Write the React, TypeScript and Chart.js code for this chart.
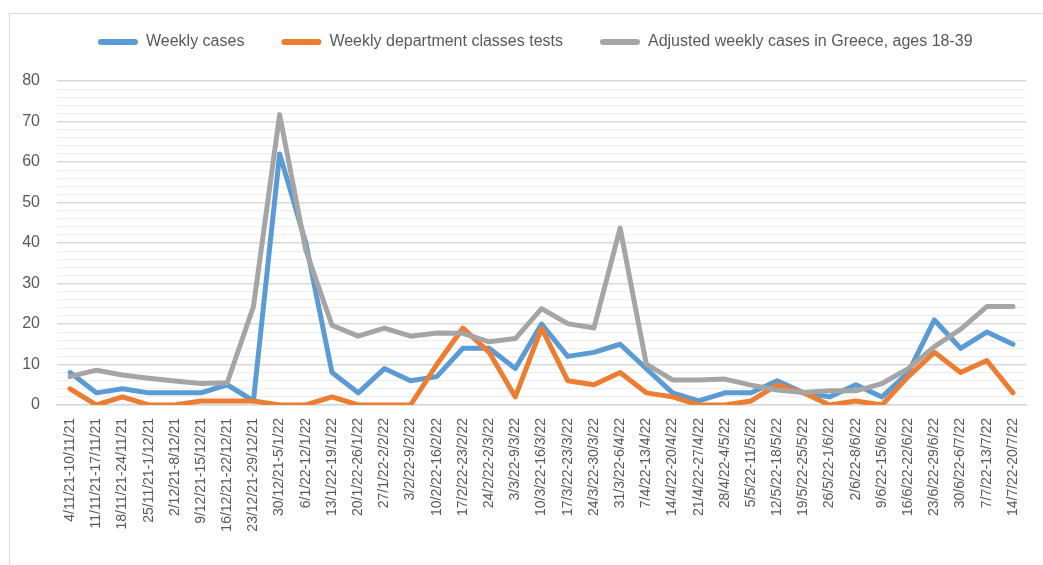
import React, { useEffect, useRef } from 'react';
import { Chart, registerables } from 'chart.js';

Chart.register(...registerables);

const categories: string[] = [
  '4/11/21-10/11/21', '11/11/21-17/11/21', '18/11/21-24/11/21', '25/11/21-1/12/21',
  '2/12/21-8/12/21', '9/12/21-15/12/21', '16/12/21-22/12/21', '23/12/21-29/12/21',
  '30/12/21-5/1/22', '6/1/22-12/1/22', '13/1/22-19/1/22', '20/1/22-26/1/22',
  '27/1/22-2/2/22', '3/2/22-9/2/22', '10/2/22-16/2/22', '17/2/22-23/2/22',
  '24/2/22-2/3/22', '3/3/22-9/3/22', '10/3/22-16/3/22', '17/3/22-23/3/22',
  '24/3/22-30/3/22', '31/3/22-6/4/22', '7/4/22-13/4/22', '14/4/22-20/4/22',
  '21/4/22-27/4/22', '28/4/22-4/5/22', '5/5/22-11/5/22', '12/5/22-18/5/22',
  '19/5/22-25/5/22', '26/5/22-1/6/22', '2/6/22-8/6/22', '9/6/22-15/6/22',
  '16/6/22-22/6/22', '23/6/22-29/6/22', '30/6/22-6/7/22', '7/7/22-13/7/22',
  '14/7/22-20/7/22',
];

const weeklyCases: number[] = [
  8, 3, 4, 3, 3, 3, 5, 1, 62, 40, 8, 3, 9, 6, 7, 14, 14, 9, 20, 12, 13, 15, 9, 3,
  1, 3, 3, 6, 3, 2, 5, 2, 8, 21, 14, 18, 15,
];

const departmentTests: number[] = [
  4, 0, 2, 0, 0, 1, 1, 1, 0, 0, 2, 0, 0, 0, 10, 19, 13, 2, 19, 6, 5, 8, 3, 2,
  0, 0, 1, 5, 3, 0, 1, 0, 7, 13, 8, 11, 3,
];

const adjustedGreece: number[] = [
  7, 8.6, 7.4, 6.6, 5.9, 5.3, 5.5, 24.3, 71.7, 38.2, 19.7, 17, 19, 17, 17.8, 17.7,
  15.6, 16.4, 23.8, 20.1, 19, 43.7, 10.1, 6.2, 6.2, 6.4, 4.9, 3.7, 3.1, 3.5, 3.5,
  5.3, 9, 14.4, 18.7, 24.3, 24.3,
];

const seriesNames: string[] = [
  'Weekly cases',
  'Weekly department classes tests',
  'Adjusted weekly cases in Greece, ages 18-39',
];

const yTickValues: number[] = [0, 10, 20, 30, 40, 50, 60, 70, 80];

const COLORS = ['#5B9BD5', '#ED7D31', '#A5A5A5'];
const TEXT = '#595959';

const legendSpacer = {
  id: 'legendSpacer',
  beforeInit(chart: any) {
    const legend = chart.legend;
    if (!legend) return;
    const origFit = legend.fit;
    legend.fit = function () {
      origFit.call(this);
      this.height = 84;
    };
  },
  afterLayout(chart: any) {
    if (chart.legend) {
      chart.legend.left = 61;
    }
  },
};

export default function App() {
  const canvasRef = useRef<HTMLCanvasElement | null>(null);

  useEffect(() => {
    const canvas = canvasRef.current;
    if (!canvas) return;
    const series = [weeklyCases, departmentTests, adjustedGreece];
    const chart = new Chart(canvas, {
      type: 'line',
      data: {
        labels: categories,
        datasets: series.map((data, i) => ({
          label: seriesNames[i],
          data,
          borderColor: COLORS[i],
          backgroundColor: COLORS[i],
          borderWidth: 5,
          pointRadius: 0,
          pointHoverRadius: 0,
          tension: 0,
          borderJoinStyle: 'round' as const,
          borderCapStyle: 'round' as const,
          order: 3 - i,
        })),
      },
      options: {
        responsive: false,
        animation: false,
        devicePixelRatio: 1,
        layout: { padding: { left: 0, right: 6, top: -3, bottom: 0 } },
        plugins: {
          tooltip: { enabled: false },
          legend: {
            display: true,
            position: 'top',
            align: 'start',
            fullSize: false,
            labels: {
              color: TEXT,
              font: { family: 'Liberation Sans', size: 16 },
              boxWidth: 40,
              boxHeight: 6,
              padding: 37,
              useBorderRadius: true,
              borderRadius: 3,
              sort: (a: any, b: any) => a.datasetIndex - b.datasetIndex,
              generateLabels: (c: any) =>
                Chart.defaults.plugins.legend.labels
                  .generateLabels(c)
                  .map((it: any) => ({ ...it, lineWidth: 0 })),
            },
          },
        },
        scales: {
          x: {
            type: 'category',
            offset: true,
            grid: { display: false, drawTicks: false },
            border: { display: true, color: '#d9d9d9', width: 1.5 },
            ticks: {
              autoSkip: false,
              minRotation: 90,
              maxRotation: 90,
              padding: 13,
              color: TEXT,
              font: { family: 'Liberation Sans', size: 14 },
            },
            afterFit: (scale: any) => {
              scale.height = 160;
            },
          },
          y: {
            min: 0,
            max: 80,
            grid: {
              drawTicks: false,
              color: (ctx: any) =>
                ctx.tick && yTickValues.includes(ctx.tick.value) ? '#d9d9d9' : '#efefef',
              lineWidth: (ctx: any) =>
                ctx.tick && yTickValues.includes(ctx.tick.value) ? 1.5 : 1.2,
            },
            border: { display: false },
            ticks: {
              stepSize: 2,
              autoSkip: false,
              padding: 17,
              color: TEXT,
              font: { family: 'Liberation Sans', size: 16 },
              callback: (v: any) => (yTickValues.includes(Number(v)) ? String(v) : ''),
            },
            afterFit: (scale: any) => {
              scale.width = 57;
            },
          },
        },
      },
      plugins: [legendSpacer],
    });
    return () => chart.destroy();
  }, []);

  return (
    <div
      style={{
        position: 'fixed',
        left: 0,
        top: 0,
        width: 1043,
        height: 565,
        overflow: 'hidden',
        background: '#ffffff',
      }}
    >
      <div
        style={{
          position: 'absolute',
          left: 9,
          top: 13,
          width: 1100,
          height: 700,
          border: '1.5px solid #d9d9d9',
        }}
      />
      <canvas
        ref={canvasRef}
        width={1043}
        height={565}
        style={{ position: 'absolute', left: 0, top: 0, width: 1043, height: 565 }}
      />
    </div>
  );
}
